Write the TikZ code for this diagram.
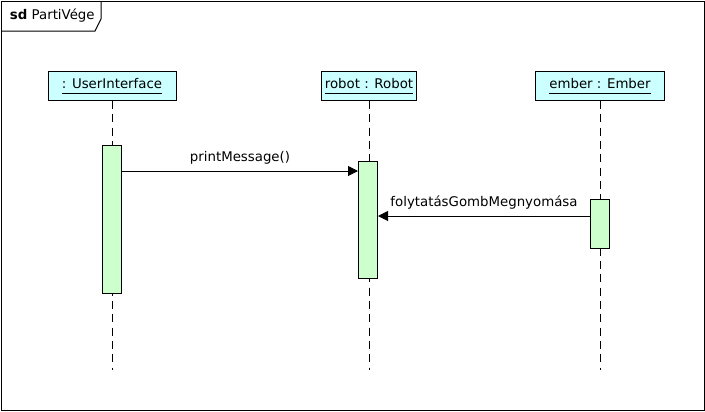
\documentclass[tikz,border=0pt]{standalone}
\usepackage{fontspec}
\setmainfont{DejaVu Sans}
\usepackage{xcolor}
\usetikzlibrary{arrows.meta}
\tikzset{every picture/.style={line width=0.75pt}}
\definecolor{headfill}{HTML}{CCFFFF}
\definecolor{actfill}{HTML}{CCFFCC}
\newcommand{\headname}[1]{\underline{#1\vphantom{g}}}
\tikzset{
  head/.style={draw,fill=headfill,inner sep=0pt,minimum height=21.75pt},
  act/.style={draw,fill=actfill,inner sep=0pt,minimum width=14.25pt},
  lifeline/.style={dash pattern=on 6pt off 4pt},
  msg/.style={-{Triangle[length=7.5pt,width=7.5pt]}}
}

\begin{document}
\begin{tikzpicture}[x=0.75pt,y=-0.75pt,font=\fontsize{10}{12}\selectfont]
\useasboundingbox (0,0) rectangle (705,411);
% frame
\draw (1,1) rectangle (704,410);
\draw (1,31) -- (95,31) -- (101,19) -- (101,1);
\node[anchor=west] (title) at (5,16) {\textbf{sd}\ PartiVége};
%
\node[head,minimum width=96pt] (ui) at (112,86) {\headname{: UserInterface}};
\node[head,minimum width=71.25pt] (robot) at (369,86) {\headname{robot : Robot}};
\node[head,minimum width=96.75pt] (ember) at (600,86) {\headname{ember : Ember}};
%
\coordinate (uiEnd) at (112,370);
\coordinate (robotEnd) at (369,370);
\coordinate (emberEnd) at (600,370);
\foreach \Source/\Target in {%
	ui.south/uiEnd,
	robot.south/robotEnd,
	ember.south/emberEnd%
    }
\draw[lifeline] (\Source) to (\Target);
%
\node[act,minimum height=111pt] (uiAct) at (112,219) {};
\node[act,minimum height=87.75pt] (robotAct) at (368,219.5) {};
\node[act,minimum height=36.75pt] (emberAct) at (600,223.5) {};
%
\coordinate (m1) at (122,171);
\coordinate (m2) at (590,216);
\draw[msg] (m1) -- (m1 -| robotAct.west) node[midway,above=1pt] (printMessage) {printMessage()};
\draw[msg] (m2) -- (m2 -| robotAct.east) node[midway,above=1pt] (gomb) {folytatásGombMegnyomása};
\end{tikzpicture}
\end{document}
